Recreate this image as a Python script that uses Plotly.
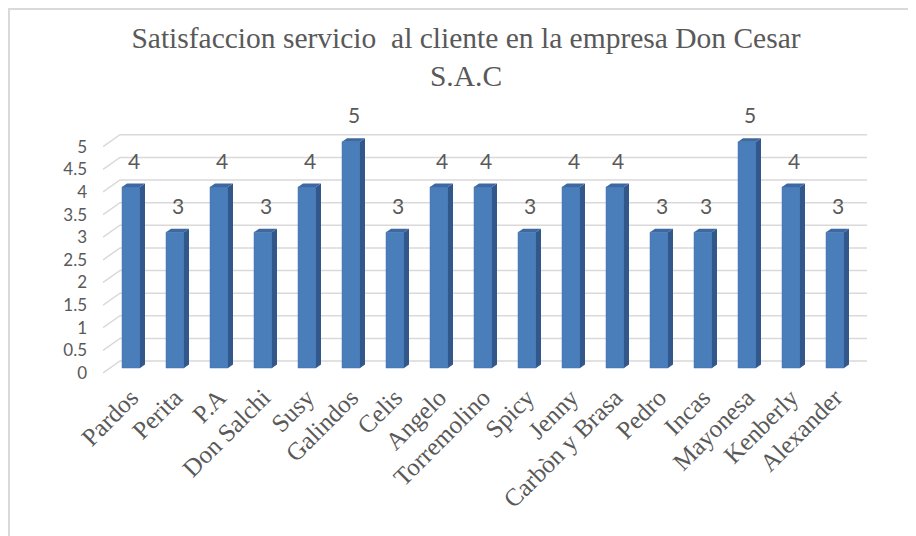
import plotly.graph_objects as go

# === DATA ===
names = ["Pardos", "Perita", "P.A", "Don Salchi", "Susy", "Galindos", "Celis",
         "Angelo", "Torremolino", "Spicy", "Jenny", "Carbòn y Brasa", "Pedro",
         "Incas", "Mayonesa", "Kenberly", "Alexander"]
scores = [4, 3, 4, 3, 4, 5, 3, 4, 4, 3, 4, 4, 3, 3, 5, 4, 3]
tick_vals = [0, 0.5, 1, 1.5, 2, 2.5, 3, 3.5, 4, 4.5, 5]
tick_text = ["0", "0.5", "1", "1.5", "2", "2.5", "3", "3.5", "4", "4.5", "5"]

# fake 3D look (Excel "3-D column"), expressed in pixels then turned into data units
OFF = 8        # the page body margin pushes the figure 8px right/down
PX_X = 44.0    # px per category
PX_Y = 45.25   # px per unit
L, R, T, B = 103, 870, 120, 375   # plot area on screen
x_lo = -(131 - L) / PX_X
x_hi = x_lo + (R - L) / PX_X
y_lo = -(B - 368) / PX_Y
y_hi = (368 - T) / PX_Y

wall_front_dy = -5 / PX_Y
wall_back_dx = 17 / PX_X
wall_back_dy = 7 / PX_Y
wall_right = x_lo + (867 - L) / PX_X

bar_w = 18 / PX_X
bar_dx = 5 / PX_X
bar_dy = 3.5 / PX_Y

GRAY = "#595959"
FRONT = "#4A7EBB"
SIDE = "#32578A"
TOP = "#3E69A0"

fig = go.Figure()

# back wall gridlines with the little floor diagonal on the left
shapes = []
for v in tick_vals:
    xf, yf = x_lo, v + wall_front_dy
    xb, yb = x_lo + wall_back_dx, v + wall_back_dy
    shapes.append(dict(type="path", xref="x", yref="y", layer="below",
                       path=f"M {xf},{yf} L {xb},{yb} L {wall_right},{yb}",
                       line=dict(color="#D9D9D9", width=1.5)))

# chart border (only top/left visible in the reference crop)
shapes.append(dict(type="rect", xref="paper", yref="paper",
                   x0=(OFF + 1 - L) / (R - L), x1=1 + (940 - R) / (R - L),
                   y0=-1, y1=1 + (T - OFF - 1) / (B - T),
                   line=dict(color="#D9D9D9", width=2), layer="below"))

# front faces
fig.add_trace(go.Bar(x=list(range(len(names))), y=scores, width=bar_w,
                     marker=dict(color=FRONT, line=dict(color="#4373AE", width=0.5)),
                     hoverinfo="skip"))

# side + top faces
sx, sy, tx, ty = [], [], [], []
for i, v in enumerate(scores):
    r = i + bar_w / 2
    l = i - bar_w / 2
    sx += [r, r + bar_dx, r + bar_dx, r, r, None]
    sy += [0, bar_dy, v + bar_dy, v, 0, None]
    tx += [l, r, r + bar_dx, l + bar_dx, l, None]
    ty += [v, v, v + bar_dy, v + bar_dy, v, None]

fig.add_trace(go.Scatter(x=sx, y=sy, fill="toself", fillcolor=SIDE, mode="lines",
                         line=dict(width=0, color=SIDE), hoverinfo="skip"))
fig.add_trace(go.Scatter(x=tx, y=ty, fill="toself", fillcolor=TOP, mode="lines",
                         line=dict(width=0, color=TOP), hoverinfo="skip"))

# data labels
annotations = []
for i, v in enumerate(scores):
    annotations.append(dict(x=i + bar_dx / 2, y=v + bar_dy, text=str(v),
                            showarrow=False, yanchor="bottom", yshift=9,
                            font=dict(family="Lato", size=21, color=GRAY)))

fig.update_layout(
    width=916, height=536,
    margin=dict(l=L - OFF, r=916 - R + OFF, t=T - OFF, b=536 - B + OFF),
    paper_bgcolor="white", plot_bgcolor="white",
    showlegend=False,
    title=dict(text="Satisfaccion servicio  al cliente en la empresa Don Cesar<br>S.A.C",
               x=0.5, xref="container", xanchor="center",
               y=0.926, yref="container", yanchor="top",
               font=dict(family="Liberation Serif", size=29.5, color=GRAY)),
    shapes=shapes,
    annotations=annotations,
)

fig.update_xaxes(range=[x_lo, x_hi], tickvals=list(range(len(names))), ticktext=names,
                 tickangle=-45, showgrid=False, zeroline=False, showline=False,
                 ticks="", ticklabelstandoff=2, automargin=False,
                 tickfont=dict(family="Liberation Serif", size=25, color=GRAY))
fig.update_yaxes(range=[y_lo, y_hi], tickvals=[v + wall_front_dy for v in tick_vals],
                 ticktext=tick_text, showgrid=False, zeroline=False, showline=False,
                 ticks="", ticklabelstandoff=15, automargin=False,
                 tickfont=dict(family="Lato", size=17, color=GRAY))

fig.write_html("out.html")
